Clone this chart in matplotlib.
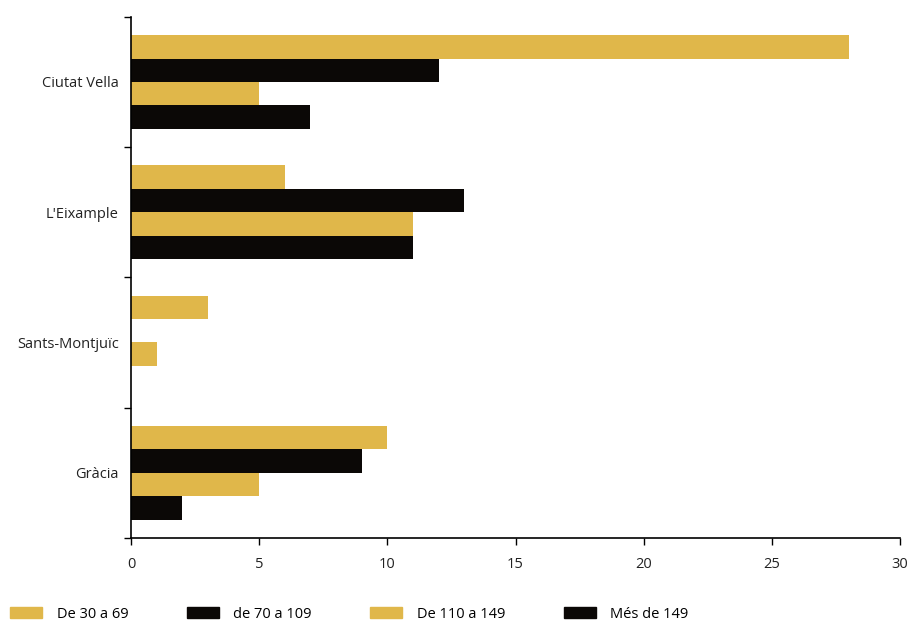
import numpy as np
import matplotlib.pyplot as plt
from matplotlib.patches import Patch

# Dades
districtes = ["Ciutat Vella", "L'Eixample", "Sants-Montjuïc", "Gràcia"]
series = ["De 30 a 69", "de 70 a 109", "De 110 a 149", "Més de 149"]
de_30_a_69 = [28, 6, 3, 10]
de_70_a_109 = [12, 13, 0, 9]
de_110_a_149 = [5, 11, 1, 5]
mes_de_149 = [7, 11, 0, 2]
valors = [de_30_a_69, de_70_a_109, de_110_a_149, mes_de_149]

or_ = "#e0b74a"
negre = "#0b0806"
colors = [or_, negre, or_, negre]

plt.rcParams['font.family'] = ['Open Sans', 'DejaVu Sans']

fig = plt.figure(figsize=(9.1, 6.24), dpi=100)
ax = fig.add_axes([0.144, 0.138, 0.845, 0.835])

y = np.arange(len(districtes))
h = 0.18
offsets = [-1.5 * h, -0.5 * h, 0.5 * h, 1.5 * h]
for v, c, off, nom in zip(valors, colors, offsets, series):
    ax.barh(y + off, v, height=h, color=c, label=nom)

ax.set_ylim(len(districtes) - 0.5, -0.5)
ax.set_xlim(0, 30)
ax.set_xticks([0, 5, 10, 15, 20, 25, 30])

# ticks als límits de cada grup, etiquetes al centre
ax.set_yticks(np.arange(len(districtes) + 1) - 0.5)
ax.set_yticklabels([])
ax.set_yticks(y, minor=True)
ax.set_yticklabels(districtes, minor=True)
ax.tick_params(axis='y', which='major', length=5, width=1, direction='out')
ax.tick_params(axis='y', which='minor', length=0, pad=9, labelsize=10.5, labelcolor='#222222')
ax.tick_params(axis='x', length=5, width=1, direction='out', pad=9, labelsize=10.5, labelcolor='#222222')

for s in ['top', 'right']:
    ax.spines[s].set_visible(False)
ax.spines['left'].set_linewidth(1.2)
ax.spines['bottom'].set_linewidth(1.2)

handles = [Patch(color=c) for c in colors]
fig.legend(handles, series, loc='center left', bbox_to_anchor=(0.011, 0.016),
           ncol=4, frameon=False, fontsize=10.5, handlelength=2.2, handleheight=0.75,
           handletextpad=1.0, columnspacing=4.0, borderpad=0, borderaxespad=0)

plt.savefig('out.png', dpi=100)
